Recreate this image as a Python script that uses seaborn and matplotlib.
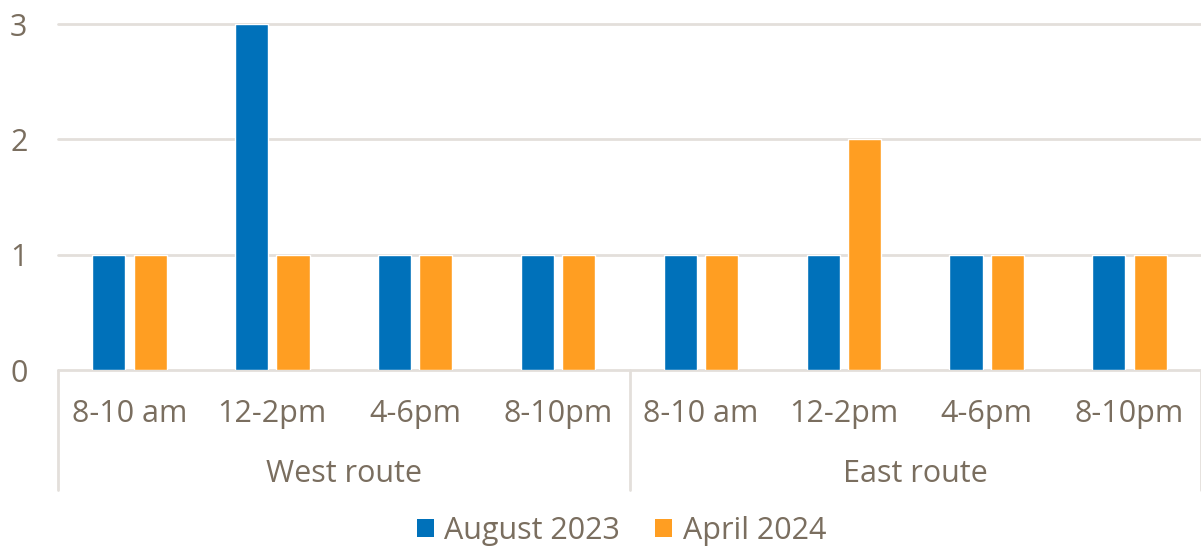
import matplotlib
matplotlib.use("Agg")
import matplotlib.pyplot as plt
import matplotlib.transforms as mtransforms
from matplotlib.patches import Patch
import seaborn as sns
import pandas as pd

# Chart data
routes = ["West route", "East route"]
time_slots = ["8-10 am", "12-2pm", "4-6pm", "8-10pm"]
series_names = ["August 2023", "April 2024"]
august_2023 = [1, 3, 1, 1, 1, 1, 1, 1]
april_2024 = [1, 1, 1, 1, 1, 2, 1, 1]
y_ticks = [0, 1, 2, 3]

BLUE = "#0071BA"
ORANGE = "#FF9E22"
TEXT = "#7A6E5F"
GRID = "#E3DFDB"
FS = 22

sns.set_theme(style="white")
plt.rcParams["font.family"] = ["Open Sans", "DejaVu Sans"]

# Long-form table: one row per (route, slot, series)
rows = []
slot_keys = []
slot_labels = []
for r_i, route in enumerate(routes):
    for s_i, slot in enumerate(time_slots):
        key = f"{route}|{slot}"
        slot_keys.append(key)
        slot_labels.append(slot)
        idx = r_i * len(time_slots) + s_i
        rows.append({"slot": key, "series": series_names[0], "value": august_2023[idx]})
        rows.append({"slot": key, "series": series_names[1], "value": april_2024[idx]})
df = pd.DataFrame(rows)

W, H, DPI = 1201, 550, 100
fig = plt.figure(figsize=(W / DPI, H / DPI), dpi=DPI)
ax_left, ax_right = 58 / W, 1.0
ax_bottom, ax_top = 1 - 370 / H, 1 - 24 / H
ax = fig.add_axes([ax_left, ax_bottom, ax_right - ax_left, ax_top - ax_bottom])

sns.barplot(data=df, x="slot", y="value", hue="series", order=slot_keys,
            hue_order=series_names, palette=[BLUE, ORANGE], width=0.58,
            gap=0.2, saturation=1, ax=ax, legend=False, zorder=3)

ax.set_xlim(-0.5, len(slot_keys) - 0.5)
ax.set_ylim(0, 3)
for s in ax.spines.values():
    s.set_visible(False)

# Horizontal gridlines (including the baseline)
for t in y_ticks:
    ax.axhline(t, color=GRID, lw=2, zorder=1, clip_on=False)

ax.set_yticks(y_ticks)
ax.set_yticklabels([str(t) for t in y_ticks])
ax.tick_params(axis="y", length=0, pad=22, labelsize=FS, labelcolor=TEXT)
ax.set_xticks([])
ax.set_xlabel("")
ax.set_ylabel("")

# Category axis: slot labels, route labels and separators below the plot
ax_h_px = 370 - 24
trans = mtransforms.blended_transform_factory(ax.transData, ax.transAxes)
def y_ax(px):
    return -(px - 370) / ax_h_px

for i, lab in enumerate(slot_labels):
    ax.text(i, y_ax(422), lab, transform=trans, ha="center", va="baseline",
            fontsize=FS, color=TEXT)
for r_i, route in enumerate(routes):
    center = r_i * len(time_slots) + (len(time_slots) - 1) / 2
    ax.text(center, y_ax(482), route, transform=trans, ha="center",
            va="baseline", fontsize=FS, color=TEXT)
for xb in [-0.5, 3.5, 7.5]:
    ax.plot([xb, xb], [0, y_ax(490)], transform=trans, color=GRID, lw=2,
            clip_on=False, zorder=1)

handles = [Patch(facecolor=BLUE, edgecolor="none"),
           Patch(facecolor=ORANGE, edgecolor="none")]
fig.legend(handles, series_names, loc="center", bbox_to_anchor=(0.5175, 1 - 531 / H),
           ncol=2, frameon=False, fontsize=FS, labelcolor=TEXT,
           handlelength=0.55, handleheight=0.55, handletextpad=0.35,
           columnspacing=1.15)

fig.savefig("out.png", dpi=DPI, facecolor="white")
